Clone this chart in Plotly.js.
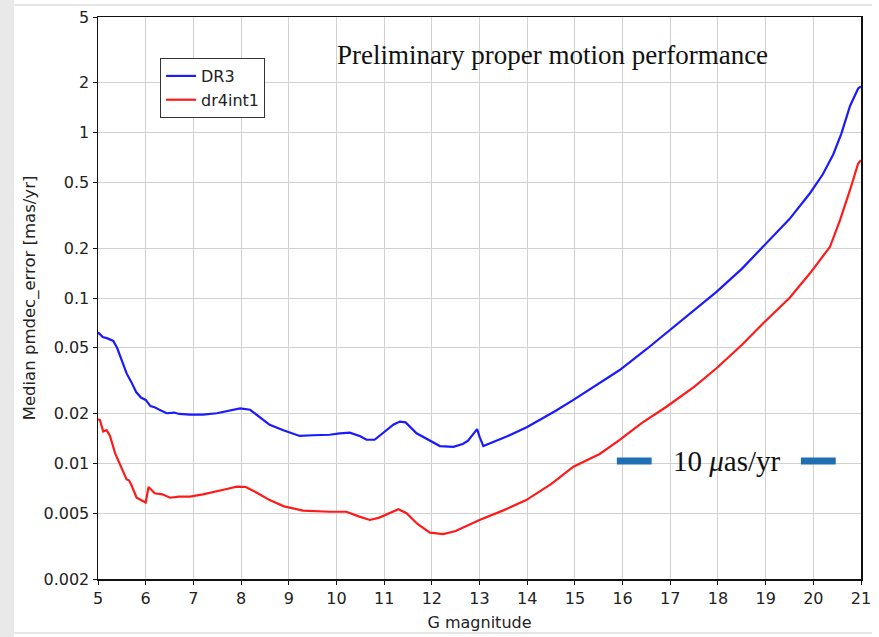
<!DOCTYPE html>
<html>
<head>
<meta charset="utf-8">
<script src="https://cdn.plot.ly/plotly-3.0.1.min.js"></script>
<style>html,body{margin:0;padding:0;background:#fff;}#chart{width:879px;height:637px;}</style>
</head>
<body>
<div id="chart"></div>
<script>
// G magnitude sample points and median pmdec_error [mas/yr]
const dr3G = [5.0,5.1,5.2,5.32,5.4,5.5,5.6,5.7,5.8,5.9,6.0,6.1,6.2,6.3,6.44,6.6,6.7,6.93,7.2,7.49,7.7,7.98,8.19,8.4,8.6,8.9,9.23,9.5,9.86,10.07,10.28,10.5,10.63,10.8,11.0,11.2,11.33,11.45,11.68,11.9,12.17,12.45,12.65,12.76,12.9,12.95,13.0,13.08,13.3,13.57,14.0,14.27,14.6,14.97,15.52,15.94,16.5,16.99,17.5,17.97,18.5,19.02,19.5,19.93,20.2,20.42,20.59,20.77,20.94,21.0];
const dr3Err = [0.062,0.058,0.057,0.055,0.050,0.042,0.035,0.031,0.027,0.025,0.0242,0.0222,0.0218,0.021,0.0201,0.0203,0.0199,0.0197,0.0197,0.0201,0.0207,0.0215,0.0211,0.019,0.0171,0.0158,0.01465,0.0148,0.0149,0.0152,0.01535,0.0146,0.0139,0.0139,0.0155,0.0172,0.0179,0.0177,0.0152,0.0140,0.01273,0.0126,0.0131,0.0137,0.0155,0.0161,0.0145,0.01273,0.0135,0.01452,0.0166,0.0183,0.0208,0.0242,0.0308,0.0367,0.049,0.0641,0.084,0.109,0.150,0.214,0.300,0.43,0.56,0.74,0.99,1.45,1.85,1.9];

const dr4G = [5.0,5.04,5.11,5.18,5.25,5.36,5.5,5.6,5.65,5.7,5.81,5.95,6.0,6.06,6.19,6.35,6.51,6.7,6.93,7.2,7.49,7.7,7.91,8.1,8.35,8.6,8.9,9.3,9.86,10.21,10.45,10.7,10.9,11.1,11.3,11.47,11.7,11.96,12.24,12.5,12.75,13.0,13.5,13.98,14.5,14.97,15.52,15.94,16.4,16.92,17.5,17.97,18.5,18.95,19.5,19.93,20.35,20.56,20.77,20.94,21.0];
const dr4Err = [0.0185,0.0183,0.0156,0.0159,0.0147,0.0115,0.0093,0.0080,0.0079,0.0074,0.0062,0.0059,0.0058,0.0072,0.0066,0.0065,0.0062,0.0063,0.0063,0.0065,0.00675,0.0070,0.00723,0.0072,0.0066,0.0060,0.0055,0.00518,0.0051,0.0051,0.0048,0.00455,0.0047,0.0050,0.00528,0.0050,0.0043,0.00381,0.00374,0.0039,0.0042,0.00455,0.0052,0.0060,0.0075,0.00955,0.0114,0.01386,0.0175,0.022,0.029,0.0376,0.052,0.0703,0.10,0.141,0.204,0.296,0.45,0.65,0.68];

const yTickVals = [0.002,0.005,0.01,0.02,0.05,0.1,0.2,0.5,1,2,5];
const yTickText = ['0.002','0.005','0.01','0.02','0.05','0.1','0.2','0.5','1','2','5'];
const seriesNames = ['DR3','dr4int1'];

// reference-scale marker ("10 µas/yr") placement
const scaleLabelValue = 0.01035;
const scaleBarLeftX = [15.88,16.61];
const scaleBarRightX = [19.74,20.47];

const sans = 'DejaVu Sans, sans-serif';
const serif = 'Liberation Serif, Times New Roman, serif';
const tickFont = {family:sans, size:16, color:'#222'};

const traces = [
  {x:dr3G, y:dr3Err, name:seriesNames[0], mode:'lines', line:{color:'#1a1aff', width:2.2}},
  {x:dr4G, y:dr4Err, name:seriesNames[1], mode:'lines', line:{color:'#ff1a1a', width:2.2}},
  {x:scaleBarLeftX, y:[scaleLabelValue,scaleLabelValue], mode:'lines', line:{color:'#1f6fb4', width:7}, showlegend:false, hoverinfo:'skip'},
  {x:scaleBarRightX, y:[scaleLabelValue,scaleLabelValue], mode:'lines', line:{color:'#1f6fb4', width:7}, showlegend:false, hoverinfo:'skip'}
];

const layout = {
  width:879, height:637,
  margin:{l:98, r:18, t:17, b:58},
  paper_bgcolor:'#ffffff', plot_bgcolor:'#ffffff',
  showlegend:true,
  legend:{x:0.0813, y:0.927, xanchor:'left', yanchor:'top', bgcolor:'#fff', bordercolor:'#333', borderwidth:1,
          font:{family:sans, size:16, color:'#222'}, tracegroupgap:0},
  xaxis:{range:[5,21], dtick:1, tick0:5, showgrid:true, gridcolor:'#d2d2d2', gridwidth:1,
         showline:true, linecolor:'#111', linewidth:1.5, mirror:true, ticks:'outside', ticklen:4, tickcolor:'#111',
         tickfont:tickFont, zeroline:false,
         title:{text:'G magnitude', font:{family:sans, size:16, color:'#222'}, standoff:10}},
  yaxis:{type:'log', range:[Math.log10(0.002), Math.log10(5)], tickvals:yTickVals, ticktext:yTickText,
         showgrid:true, gridcolor:'#d2d2d2', gridwidth:1,
         showline:true, linecolor:'#111', linewidth:1.5, mirror:true, ticks:'outside', ticklen:4, tickcolor:'#111',
         tickfont:tickFont, zeroline:false,
         title:{text:'Median pmdec_error [mas/yr]', font:{family:sans, size:16.5, color:'#222'}, standoff:3}},
  shapes:[
    {type:'rect', xref:'paper', yref:'paper', x0:-0.13, x1:-0.1101, y0:-0.2, y1:1.1, fillcolor:'#e9e9e9', line:{width:0}, layer:'below'},
    {type:'line', xref:'paper', yref:'paper', x0:-0.1101, x1:1.0145, y0:1.0214, y1:1.0214, line:{color:'#e6e6e6', width:2}, layer:'below'},
    {type:'line', xref:'paper', yref:'paper', x0:-0.1101, x1:1.0145, y0:-0.0961, y1:-0.0961, line:{color:'#e6e6e6', width:2}, layer:'below'},
    {type:'rect', xref:'x', yref:'paper', x0:15.78, x1:20.66, y0:0.1548, y1:0.242, fillcolor:'#ffffff', line:{width:0}, layer:'below'}
  ],
  annotations:[
    {xref:'x', yref:'paper', x:14.54, y:0.963, text:'Preliminary proper motion performance', showarrow:false,
     font:{family:serif, size:27, color:'#111'}},
    {xref:'x', yref:'y', x:18.18, y:Math.log10(scaleLabelValue), text:'10 <i>μ</i>as/yr', showarrow:false,
     font:{family:serif, size:29, color:'#111'}}
  ]
};

Plotly.newPlot('chart', traces, layout, {displayModeBar:false, staticPlot:true});
</script>
</body>
</html>
